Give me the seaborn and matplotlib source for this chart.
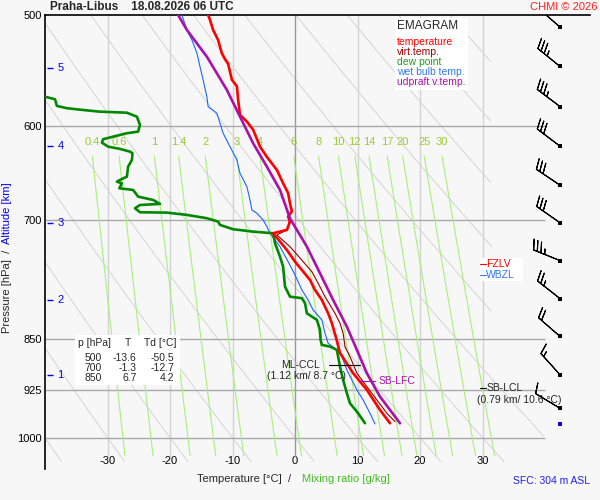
import numpy as np
import pandas as pd
import matplotlib
matplotlib.use('Agg')
import matplotlib.pyplot as plt
import seaborn as sns
from matplotlib.patches import Rectangle

# Sounding profiles (temperature in degC, pressure in hPa)
temp_t = [-13.9, -13.6, -13.1, -12.3, -11.7, -11.2, -10.7, -10.1, -9.3, -9.1, -8.8, -7.7,
          -6.7, -5.6, -4.5, -2.9, -1.9, -1.1, -0.8, -0.5, -1.1, -0.8, -1.3, -3.5,
          -1.3, 0.0, 1.1, 2.4, 3.2, 4.3, 5.3, 5.9, 6.6, 7.2, 9.3, 11.5, 13.6, 15.2]
temp_p = [500, 504, 512.4, 521, 532.5, 537.6, 541.7, 556, 562, 574.5, 589, 595.5,
          603.5, 620.5, 631, 644.7, 658.9, 669.7, 681, 690, 696, 701.7, 711.3, 715.2,
          735.1, 749.3, 759.6, 772.1, 784.9, 797.9, 815.5, 828.9, 850, 870.3, 899.7, 924.7, 955.6, 976.7]

dew_t = [-50.5, -40.0, -38.4, -38.1, -36.5, -33.9, -31.2, -26.9, -25.3, -24.8, -25.1, -26.9,
         -29.1, -30.7, -30.9, -29.9, -28.0, -26.4, -26.0, -26.1, -26.7, -26.9, -28.0, -28.5,
         -27.7, -28.1, -25.9, -25.1, -22.7, -21.6, -24.8, -25.6, -24.8, -20.5, -17.3, -14.1,
         -12.3, -12.0, -9.9, -6.7, -3.5, -3.2, -2.4, -1.9, -1.6, -0.8, 1.1, 1.6, 1.9, 2.7,
         3.5, 4.0, 4.1, 4.3, 5.6, 6.7, 6.9, 7.2, 7.7, 8.3, 8.8, 10.1, 11.2]
dew_p = [500, 571.7, 574.1, 580.4, 582.6, 584.3, 585.9, 586.9, 590.7, 598.8, 605.4, 607.0,
         610.4, 613.0, 616.4, 620.5, 622.8, 625.6, 627.3, 634.2, 641.2, 651.8, 655.3, 657.2,
         658.9, 664.3, 666.2, 673.5, 677.2, 681.6, 682.8, 686.5, 691.0, 691.4, 694.0, 697.8,
         701.7, 705.5, 710.5, 713.3, 715.2, 727.0, 743.2, 755.5, 780.6, 793.6, 795.6, 802.2,
         815.5, 820.0, 824.4, 838.1, 851.9, 858.9, 861.3, 866.0, 875.6, 890.0, 909.6, 929.8,
         945.2, 960.8, 976.7]

wet_t = [-18.1, -17.3, -16.5, -15.7, -15.2, -14.7, -14.1, -13.9, -12.5, -12.0, -11.5, -10.4,
         -9.3, -8.8, -7.7, -7.2, -6.9, -6.1, -5.1, -4.5, -4.0, -2.4, -1.1, 0.0, 1.1, 2.1,
         2.9, 4.3, 4.8, 5.3, 6.7, 7.5, 8.3, 9.1, 9.9, 10.9, 12.0, 12.8]
wet_p = [500, 512.4, 520.9, 532.1, 544.2, 556.2, 571.7, 581.1, 587.4, 597.1, 607.0, 620.5,
         634.2, 648.2, 662.6, 677.2, 688.4, 692.1, 699.7, 707.5, 715.2, 731.1, 749.3, 765.8,
         784.9, 797.9, 811.1, 824.4, 842.6, 856.6, 866.0, 875.6, 894.9, 909.6, 924.7, 940.1,
         960.8, 977.8]

virt_t = [-0.9, -1.2, -2.9, -0.8, 1.3, 2.7, 3.7, 4.8, 6.4, 7.2, 7.7, 8.0, 8.8, 9.9, 11.5,
          13.1, 14.7, 16.0]
virt_p = [700, 711, 717.2, 731.1, 749.3, 761.7, 776.3, 793.6, 815.5, 828.9, 842.6, 861.3,
          875.6, 899.7, 919.7, 940.1, 960.8, 974.1]

updr_t = [-18.7, -17.3, -14.1, -10.9, -8.8, -6.7, -4.5, -2.4, -0.8, 1.9, 4.0, 6.1, 8.3,
          9.9, 11.5, 13.6, 16.8]
updr_p = [500, 512.4, 535.4, 565.4, 590.7, 617.1, 641.2, 666.2, 698, 731.1, 763.7, 797.9,
          833.6, 866.0, 899.7, 935.0, 976.7]

# wind barbs (kt) every 500 m
wind_p = [510, 544, 581, 620, 661, 703, 748, 796, 847, 902, 953]
wind_dir = [311, 309, 307, 307, 304, 305, 292, 308, 311, 318, 301]
wind_spd = [10, 35, 35, 30, 30, 30, 35, 25, 20, 15, 10]
sfc_p = 977.8

alt_km = [1, 2, 3, 4, 5]
alt_p = [901.9, 797.9, 703.2, 619.8, 545.4]

mr_vals = [0.4, 0.6, 1, 1.4, 2, 3, 4, 6, 8, 10, 12, 14, 17, 20, 25, 30]
p_ticks = [500, 600, 700, 850, 925, 1000]
t_ticks = [-30, -20, -10, 0, 10, 20, 30]

tab_p = ['500', '700', '850']
tab_t = ['-13.6', '-1.3', '6.7']
tab_td = ['-50.5', '-12.7', '4.2']

levels = {'FZLV': 752, 'WBZL': 766}
ccl_p, ccl_km, ccl_t = 887, 1.12, 8.7
lfc_p = 911
lcl_p, lcl_km, lcl_t = 921.4, 0.79, 10.6

sns.set_theme(style='white')
plt.rcParams['font.family'] = ['Liberation Sans', 'DejaVu Sans']

BG = '#f7f7f7'
fig = plt.figure(figsize=(6, 5), dpi=100, facecolor=BG)
ax = fig.add_axes([45 / 600, 31 / 500, 545 / 600, 454 / 500], facecolor=BG)
ax.set_yscale('log')
ax.set_xlim(-40, 47.2)
ax.set_ylim(1052.8, 500)


def fx(x):
    return x / 600


def fy(y):
    return 1 - y / 500


# dry adiabats
pl = np.geomspace(500, 1040, 300)
for th in range(-40, 111, 10):
    tt = (th + 273.15) * (pl / 1000) ** 0.2857 - 273.15
    m = tt <= (40 if th <= 40 else 31.5)
    ax.plot(tt[m], pl[m], color='#d4d4d4', lw=0.7, zorder=1)

# mixing ratio lines
pm = np.geomspace(630, 1030, 100)
for w in mr_vals:
    lnr = np.log(w * pm / (622 + w) / 6.112)
    td = 243.5 * lnr / (17.67 - lnr)
    ax.plot(td, pm, color='#a8f07c', lw=0.8, zorder=2)
    ax.text(td[0], 616, f'{w:g}', color='#99cc33', fontsize=8, ha='center', va='center', zorder=3)

# grid
ax.vlines([t for t in t_ticks if t != 0], 500, 1033, color='#d3d3d3', lw=1, zorder=1)
ax.vlines(0, 500, 1033, color='#999999', lw=1, zorder=1)
ax.hlines(p_ticks[1:], -40, 40, color='#a9a9a9', lw=1, zorder=1)

# profiles
sns.lineplot(x=wet_t, y=wet_p, sort=False, estimator=None, color='#1a66ff', lw=0.8, ax=ax, zorder=4)
sns.lineplot(x=virt_t, y=virt_p, sort=False, estimator=None, color='#990000', lw=0.8, ax=ax, zorder=4)
sns.lineplot(x=dew_t, y=dew_p, sort=False, estimator=None, color='#008800', lw=1.9, ax=ax, zorder=5)
sns.lineplot(x=temp_t, y=temp_p, sort=False, estimator=None, color='#ff0000', lw=1.9, ax=ax, zorder=6)
sns.lineplot(x=updr_t, y=updr_p, sort=False, estimator=None, color='#aa10aa', lw=1.9, ax=ax, zorder=7)

# winds
rad = np.deg2rad(wind_dir)
u = -np.array(wind_spd) * np.sin(rad)
v = -np.array(wind_spd) * np.cos(rad)
bx = np.full(len(wind_p), 42.4)
ax.barbs(bx, wind_p, u, v, length=6.4, linewidth=0.8, color='black', zorder=8,
         sizes=dict(spacing=0.14, height=0.36))
ax.scatter(bx, wind_p, marker='s', s=5, color='black', zorder=9, linewidths=0)
ax.scatter([42.4], [sfc_p], marker='s', s=5, color='#0000ee', zorder=9, linewidths=0)

# altitude ticks
ax.hlines(alt_p, -39.7, -38.7, color='#0000ee', lw=1, zorder=6)
for k, p in zip(alt_km, alt_p):
    ax.text(-38.0, p, str(k), color='#0000ee', fontsize=8, ha='left', va='center', zorder=6)

# axes styling
for s in ['right', 'bottom']:
    ax.spines[s].set_visible(False)
for s in ['top', 'left']:
    ax.spines[s].set_color('black')
    ax.spines[s].set_linewidth(1.2)
ax.set_yticks(p_ticks)
ax.set_yticklabels([str(p) for p in p_ticks])
ax.yaxis.set_minor_locator(matplotlib.ticker.NullLocator())
ax.set_xticks(t_ticks)
ax.set_xticklabels([str(t) for t in t_ticks])
ax.tick_params(axis='y', length=0, pad=2.5, labelsize=8, colors='black')
ax.tick_params(axis='x', length=0, pad=-9, labelsize=8, colors='black')
ax.set_xlabel('')
ax.set_ylabel('')

# level annotations
ax.plot([5.4, 10.4], [ccl_p, ccl_p], color='black', lw=0.8, zorder=8)
ax.text(4.0, ccl_p, 'ML-CCL', fontsize=7.5, ha='right', va='center', zorder=8)
ax.text(1.9, 904, f'({ccl_km:.2f} km/ {ccl_t} °C)', fontsize=7.5, ha='center', va='center', zorder=8)
ax.plot([10.2, 12.8], [lfc_p, lfc_p], color='#aa10aa', lw=0.8, zorder=8)
ax.text(13.4, lfc_p, 'SB-LFC', fontsize=7.5, color='#aa10aa', ha='left', va='center', zorder=8)
ax.plot([29.6, 30.6], [lcl_p, lcl_p], color='black', lw=0.8, zorder=8)
ax.text(30.6, lcl_p, 'SB-LCL', fontsize=7.5, ha='left', va='center', zorder=8)
ax.text(35.9, 940, f'({lcl_km:.2f} km/ {lcl_t} °C)', fontsize=7.5, ha='center', va='center', zorder=8)

ax.add_patch(Rectangle((fx(480), fy(281)), 43 / 600, 23 / 500, transform=fig.transFigure,
                       facecolor='white', edgecolor='none', zorder=7))
for (name, p), c in zip(levels.items(), ['#ff0000', '#3377ee']):
    ax.plot([29.6, 30.5], [p, p], color=c, lw=0.8, zorder=8)
    ax.text(30.6, p, name, fontsize=7.5, color=c, ha='left', va='center', zorder=8)

# legend box
ax.add_patch(Rectangle((fx(395), fy(90)), 73 / 600, 72 / 500, transform=fig.transFigure,
                       facecolor='white', edgecolor='none', zorder=7))
fig.text(fx(397), fy(26), 'EMAGRAM', fontsize=8.5, va='center', ha='left')
for i, (lab, c) in enumerate(zip(['temperature', 'virt.temp.', 'dew point', 'wet bulb temp.', 'udpraft v.temp.'],
                                 ['#ff0000', '#a00000', '#229922', '#3377ee', '#aa10aa'])):
    fig.text(fx(397), fy(42 + 10 * i), lab, fontsize=7.5, color=c, va='center', ha='left')

# values table
ax.add_patch(Rectangle((fx(75), fy(385)), 105 / 600, 50 / 500, transform=fig.transFigure,
                       facecolor='white', edgecolor='none', zorder=7))
fig.text(fx(78), fy(343), 'p [hPa]', fontsize=7.5, va='center', ha='left')
fig.text(fx(128), fy(343), 'T', fontsize=7.5, va='center', ha='center')
fig.text(fx(144), fy(343), 'Td [°C]', fontsize=7.5, va='center', ha='left')
for i in range(3):
    yy = fy(358 + 10 * i)
    fig.text(fx(102), yy, tab_p[i], fontsize=7.5, va='center', ha='right')
    fig.text(fx(136.5), yy, tab_t[i], fontsize=7.5, va='center', ha='right')
    fig.text(fx(174), yy, tab_td[i], fontsize=7.5, va='center', ha='right')

# titles and axis labels
fig.text(fx(50), fy(7.5), 'Praha-Libus    18.08.2026 06 UTC', fontsize=8.5, fontweight='bold',
         va='center', ha='left')
fig.text(fx(597), fy(7), 'CHMI © 2026', fontsize=8, color='#ff2020', va='center', ha='right')
fig.text(fx(197), fy(479), 'Temperature [°C]  /', fontsize=8, va='center', ha='left')
fig.text(fx(302), fy(479), 'Mixing ratio [g/kg]', fontsize=8, color='#44bb22', va='center', ha='left')
fig.text(fx(7.5), fy(333), 'Pressure [hPa]  /', fontsize=8, rotation=90, va='bottom', ha='center')
fig.text(fx(7.5), fy(244), 'Altitude [km]', fontsize=8, rotation=90, color='#0000ee', va='bottom', ha='center')
fig.text(fx(590), fy(481), 'SFC: 304 m ASL', fontsize=7.5, color='#2020ee', va='center', ha='right')

fig.savefig('out.png', dpi=100, facecolor=BG)
